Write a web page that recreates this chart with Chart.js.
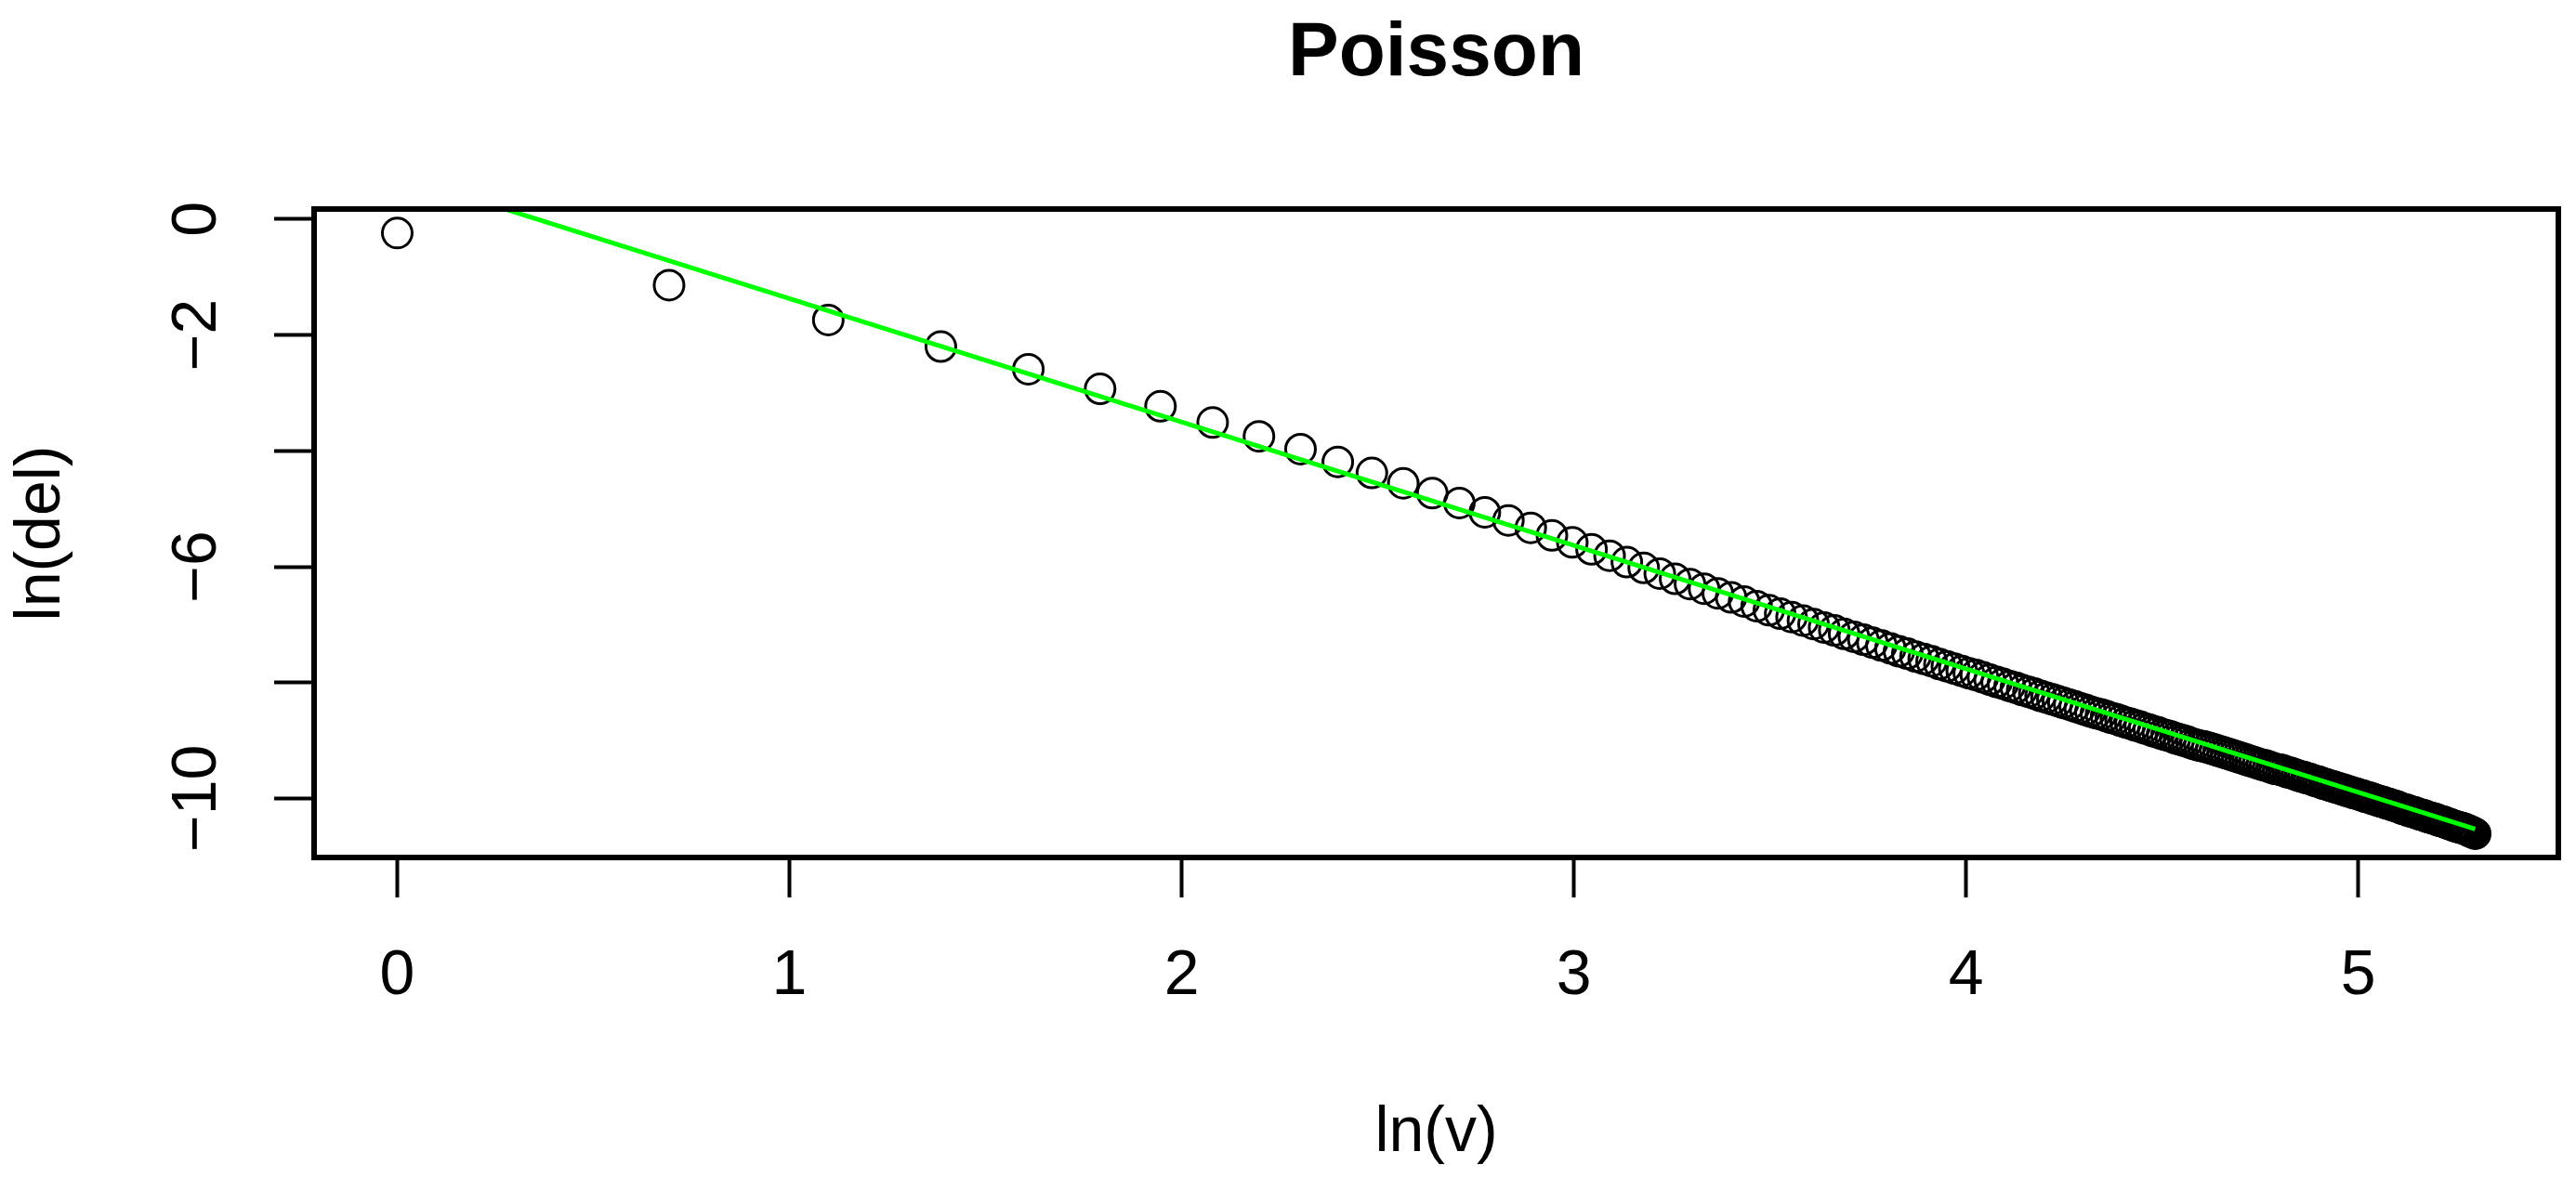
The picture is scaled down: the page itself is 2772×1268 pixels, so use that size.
<!DOCTYPE html>
<html>
<head>
<meta charset="utf-8">
<script src="https://cdn.jsdelivr.net/npm/chart.js@4/dist/chart.umd.min.js"></script>
<style>
  body { margin: 0; background: #fff; }
  #wrap { width: 2772px; height: 1268px; }
</style>
</head>
<body>
<div id="wrap"><canvas id="chart" width="2772" height="1268"></canvas></div>
<script>
// ln(v), v = 1..200
const lnV = [
  0, 0.693, 1.099, 1.386, 1.609, 1.792, 1.946, 2.079, 2.197, 2.303,
  2.398, 2.485, 2.565, 2.639, 2.708, 2.773, 2.833, 2.890, 2.944, 2.996,
  3.045, 3.091, 3.135, 3.178, 3.219, 3.258, 3.296, 3.332, 3.367, 3.401,
  3.434, 3.466, 3.497, 3.526, 3.555, 3.584, 3.611, 3.638, 3.664, 3.689,
  3.714, 3.738, 3.761, 3.784, 3.807, 3.829, 3.850, 3.871, 3.892, 3.912,
  3.932, 3.951, 3.970, 3.989, 4.007, 4.025, 4.043, 4.060, 4.078, 4.094,
  4.111, 4.127, 4.143, 4.159, 4.174, 4.190, 4.205, 4.220, 4.234, 4.248,
  4.263, 4.277, 4.290, 4.304, 4.317, 4.331, 4.344, 4.357, 4.369, 4.382,
  4.394, 4.407, 4.419, 4.431, 4.443, 4.454, 4.466, 4.477, 4.489, 4.500,
  4.511, 4.522, 4.533, 4.543, 4.554, 4.564, 4.575, 4.585, 4.595, 4.605,
  4.615, 4.625, 4.635, 4.644, 4.654, 4.663, 4.673, 4.682, 4.691, 4.700,
  4.710, 4.718, 4.727, 4.736, 4.745, 4.754, 4.762, 4.771, 4.779, 4.787,
  4.796, 4.804, 4.812, 4.820, 4.828, 4.836, 4.844, 4.852, 4.860, 4.868,
  4.875, 4.883, 4.890, 4.898, 4.905, 4.913, 4.920, 4.927, 4.934, 4.942,
  4.949, 4.956, 4.963, 4.970, 4.977, 4.984, 4.990, 4.997, 5.004, 5.011,
  5.017, 5.024, 5.030, 5.037, 5.043, 5.050, 5.056, 5.063, 5.069, 5.075,
  5.081, 5.088, 5.094, 5.100, 5.106, 5.112, 5.118, 5.124, 5.130, 5.136,
  5.142, 5.147, 5.153, 5.159, 5.165, 5.170, 5.176, 5.182, 5.187, 5.193,
  5.198, 5.204, 5.209, 5.215, 5.220, 5.226, 5.231, 5.236, 5.242, 5.247,
  5.252, 5.257, 5.263, 5.268, 5.273, 5.278, 5.283, 5.288, 5.293, 5.298
]

// ln(del)
const lnDel = [
  -0.24, -1.14, -1.74, -2.20, -2.59, -2.93, -3.23, -3.51, -3.75, -3.97,
  -4.19, -4.38, -4.56, -4.73, -4.90, -5.06, -5.20, -5.33, -5.46, -5.58,
  -5.70, -5.81, -5.92, -6.02, -6.12, -6.21, -6.30, -6.38, -6.46, -6.53,
  -6.60, -6.68, -6.75, -6.81, -6.87, -6.93, -6.99, -7.05, -7.10, -7.16,
  -7.21, -7.26, -7.31, -7.36, -7.41, -7.46, -7.50, -7.55, -7.59, -7.63,
  -7.68, -7.72, -7.76, -7.80, -7.84, -7.87, -7.91, -7.95, -7.99, -8.02,
  -8.06, -8.09, -8.13, -8.16, -8.19, -8.23, -8.26, -8.29, -8.32, -8.35,
  -8.38, -8.41, -8.44, -8.47, -8.50, -8.53, -8.55, -8.58, -8.61, -8.63,
  -8.66, -8.69, -8.71, -8.74, -8.76, -8.79, -8.81, -8.84, -8.86, -8.89,
  -8.91, -8.93, -8.96, -8.98, -9.00, -9.02, -9.05, -9.07, -9.09, -9.10,
  -9.12, -9.14, -9.16, -9.18, -9.20, -9.22, -9.24, -9.26, -9.28, -9.30,
  -9.32, -9.34, -9.36, -9.38, -9.40, -9.42, -9.43, -9.45, -9.47, -9.49,
  -9.50, -9.51, -9.53, -9.55, -9.56, -9.58, -9.60, -9.62, -9.63, -9.65,
  -9.66, -9.68, -9.70, -9.71, -9.73, -9.75, -9.76, -9.78, -9.79, -9.81,
  -9.82, -9.84, -9.85, -9.87, -9.88, -9.90, -9.91, -9.92, -9.94, -9.95,
  -9.97, -9.98, -9.99, -10.01, -10.02, -10.04, -10.05, -10.06, -10.08, -10.09,
  -10.10, -10.12, -10.13, -10.14, -10.16, -10.18, -10.19, -10.20, -10.22, -10.23,
  -10.24, -10.25, -10.27, -10.28, -10.29, -10.30, -10.32, -10.33, -10.34, -10.35,
  -10.36, -10.38, -10.39, -10.40, -10.41, -10.43, -10.44, -10.45, -10.47, -10.48,
  -10.49, -10.50, -10.51, -10.52, -10.53, -10.55, -10.56, -10.58, -10.59, -10.61
]

// fitted line (green)
const fitX = [0, 5.298]
const fitY = [0.76, -10.53]

const xTicks = [0, 1, 2, 3, 4, 5]
const xTickLabels = ['0', '1', '2', '3', '4', '5']
const yTicks = [0, -2, -4, -6, -8, -10]
const yTickLabels = ['0', '\u22122', '', '\u22126', '', '\u221210']

const FONT = "'Liberation Sans', Arial, Helvetica, sans-serif"
Chart.defaults.font.family = FONT
Chart.defaults.color = '#000'

function toPoints(xs, ys) {
  return xs.map(function (x, i) {
    return { x: x, y: ys[i] }
  })
}

// box round the plot + rotated y tick labels, like R
const rFrame = {
  id: 'rFrame',
  afterDraw(chart) {
    const ctx = chart.ctx
    const a = chart.chartArea
    ctx.save()
    ctx.strokeStyle = '#000'
    ctx.lineWidth = 6
    ctx.strokeRect(a.left, a.top, a.right - a.left, a.bottom - a.top)

    const yScale = chart.scales.y
    ctx.fillStyle = '#000'
    ctx.font = '68px ' + FONT
    ctx.textAlign = 'center'
    ctx.textBaseline = 'middle'
    yTicks.forEach(function (v, i) {
      if (!yTickLabels[i]) return
      ctx.save()
      ctx.translate(213, yScale.getPixelForValue(v))
      ctx.rotate(-Math.PI / 2)
      ctx.fillText(yTickLabels[i], 0, 0)
      ctx.restore()
    })
    ctx.restore()
  }
}

new Chart(document.getElementById('chart'), {
  type: 'scatter',
  data: {
    datasets: [
      {
        label: 'fit',
        data: toPoints(fitX, fitY),
        showLine: true,
        borderColor: '#00ff00',
        borderWidth: 5,
        pointRadius: 0,
        order: 0
      },
      {
        label: 'ln(del)',
        data: toPoints(lnV, lnDel),
        pointStyle: 'circle',
        pointRadius: 16,
        pointBorderWidth: 3,
        pointBorderColor: '#000',
        pointBackgroundColor: 'rgba(0,0,0,0)',
        order: 1
      }
    ]
  },
  options: {
    responsive: false,
    animation: false,
    devicePixelRatio: 1,
    layout: { padding: { left: 0, right: 18, top: 0, bottom: 0 } },
    plugins: {
      legend: { display: false },
      tooltip: { enabled: false },
      title: {
        display: true,
        text: 'Poisson',
        fullSize: false,
        color: '#000',
        font: { size: 82, weight: 'bold', lineHeight: 1 },
        padding: { top: 17.6, bottom: 125.4 }
      }
    },
    scales: {
      x: {
        type: 'linear',
        min: -0.212,
        max: 5.51,
        afterBuildTicks: function (axis) {
          axis.ticks = xTicks.map(function (v) { return { value: v } })
        },
        grid: {
          drawOnChartArea: false,
          drawTicks: true,
          tickLength: 43,
          tickWidth: 4,
          tickColor: '#000'
        },
        border: { display: false },
        ticks: {
          padding: 44,
          maxRotation: 0,
          color: '#000',
          font: { size: 68 },
          callback: function (value) {
            const i = xTicks.indexOf(value)
            return i >= 0 ? xTickLabels[i] : ''
          }
        },
        title: {
          display: true,
          text: 'ln(v)',
          color: '#000',
          font: { size: 68, lineHeight: 1 },
          padding: { top: 50.8, bottom: 13.6 }
        }
      },
      y: {
        type: 'linear',
        min: -11.02,
        max: 0.175,
        afterBuildTicks: function (axis) {
          axis.ticks = yTicks.map(function (v) { return { value: v } })
        },
        grid: {
          drawOnChartArea: false,
          drawTicks: true,
          tickLength: 43,
          tickWidth: 4,
          tickColor: '#000'
        },
        border: { display: false },
        ticks: { display: false },
        title: {
          display: true,
          text: 'ln(del)',
          color: '#000',
          font: { size: 68, lineHeight: 1 },
          padding: { top: 11, bottom: 216 }
        }
      }
    }
  },
  plugins: [rFrame]
})
</script>
</body>
</html>
